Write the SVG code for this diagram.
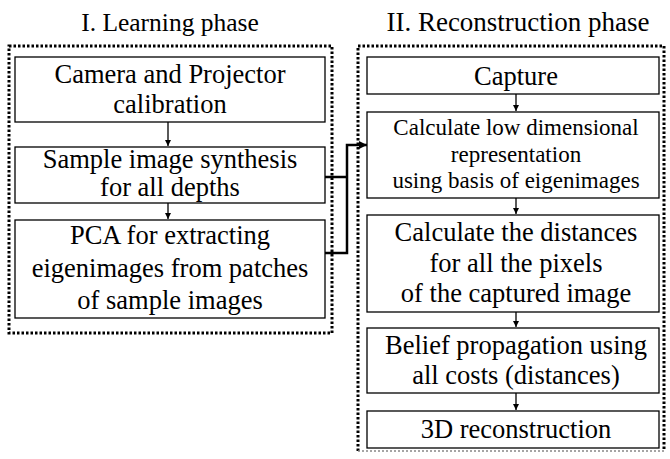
<svg xmlns="http://www.w3.org/2000/svg" width="670" height="459" viewBox="0 0 670 459">
<style>
.t{font-family:"Liberation Serif","Times New Roman",serif;fill:#000;text-anchor:middle;font-size:26.5px}
.s{font-size:23px}
.b{fill:#fff;stroke:#000;stroke-width:1.3}
.f{fill:none;stroke:#000;stroke-width:3;stroke-dasharray:2.5 2}
.c{fill:none;stroke:#000;stroke-width:1.3}
.k{fill:none;stroke:#000;stroke-width:2.5}
</style>
<defs>
<marker id="a" markerWidth="8" markerHeight="8" refX="6" refY="3" orient="auto" markerUnits="userSpaceOnUse">
<path d="M0,0 L6,3 L0,6 z" fill="#000"/>
</marker>
<marker id="a2" markerWidth="10" markerHeight="10" refX="8" refY="4" orient="auto" markerUnits="userSpaceOnUse">
<path d="M0,0 L8,4 L0,8 z" fill="#000"/>
</marker>
</defs>
<g id="titles">
<text class="t" x="170" y="31" style="font-size:25.5px">I. Learning phase</text>
<text class="t" x="518" y="31" style="font-size:27px">II. Reconstruction phase</text>
</g>
<g id="frames">
<path class="f" d="M9,46 H332 V333 H9 Z"/>
<path class="f" d="M358,451 V46 H664 V451"/>
<path d="M358,451 H664" fill="none" stroke="#888" stroke-width="1.5" stroke-dasharray="2 2"/>
</g>
<g id="n1"><rect class="b" x="15" y="57" width="310" height="65"/>
<text class="t" x="170" y="83">Camera and Projector</text>
<text class="t" x="170" y="113">calibration</text></g>
<g id="n2"><rect class="b" x="15" y="147" width="310" height="56"/>
<text class="t" x="170" y="168">Sample image synthesis</text>
<text class="t" x="170" y="196">for all depths</text></g>
<g id="n3"><rect class="b" x="15" y="220" width="310" height="98"/>
<text class="t" x="170" y="244">PCA for extracting</text>
<text class="t" x="170" y="277">eigenimages from patches</text>
<text class="t" x="170" y="309">of sample images</text></g>
<g id="n4"><rect class="b" x="367" y="57" width="292" height="37"/>
<text class="t" x="516" y="85">Capture</text></g>
<g id="n5"><rect class="b" x="367" y="112" width="292" height="86"/>
<text class="t s" x="516" y="135">Calculate low dimensional</text>
<text class="t s" x="516" y="162">representation</text>
<text class="t s" x="516" y="188">using basis of eigenimages</text></g>
<g id="n6"><rect class="b" x="367" y="215" width="292" height="97"/>
<text class="t" x="516" y="241">Calculate the distances</text>
<text class="t" x="516" y="272">for all the pixels</text>
<text class="t" x="516" y="302">of the captured image</text></g>
<g id="n7"><rect class="b" x="367" y="328" width="292" height="65"/>
<text class="t" x="516" y="354">Belief propagation using</text>
<text class="t" x="516" y="384">all costs (distances)</text></g>
<g id="n8"><rect class="b" x="367" y="411" width="292" height="37"/>
<text class="t" x="516" y="438">3D reconstruction</text></g>
<g id="connectors">
<path class="c" d="M168,122 V146" marker-end="url(#a)"/>
<path class="c" d="M168,203 V219" marker-end="url(#a)"/>
<path class="c" d="M516,94 V111" marker-end="url(#a)"/>
<path class="c" d="M516,198 V214" marker-end="url(#a)"/>
<path class="c" d="M516,312 V327" marker-end="url(#a)"/>
<path class="c" d="M516,393 V410" marker-end="url(#a)"/>
<path class="k" d="M325,177 H347"/>
<path class="k" d="M325,253 H347 V145 H367" marker-end="url(#a2)"/>
</g>
</svg>
